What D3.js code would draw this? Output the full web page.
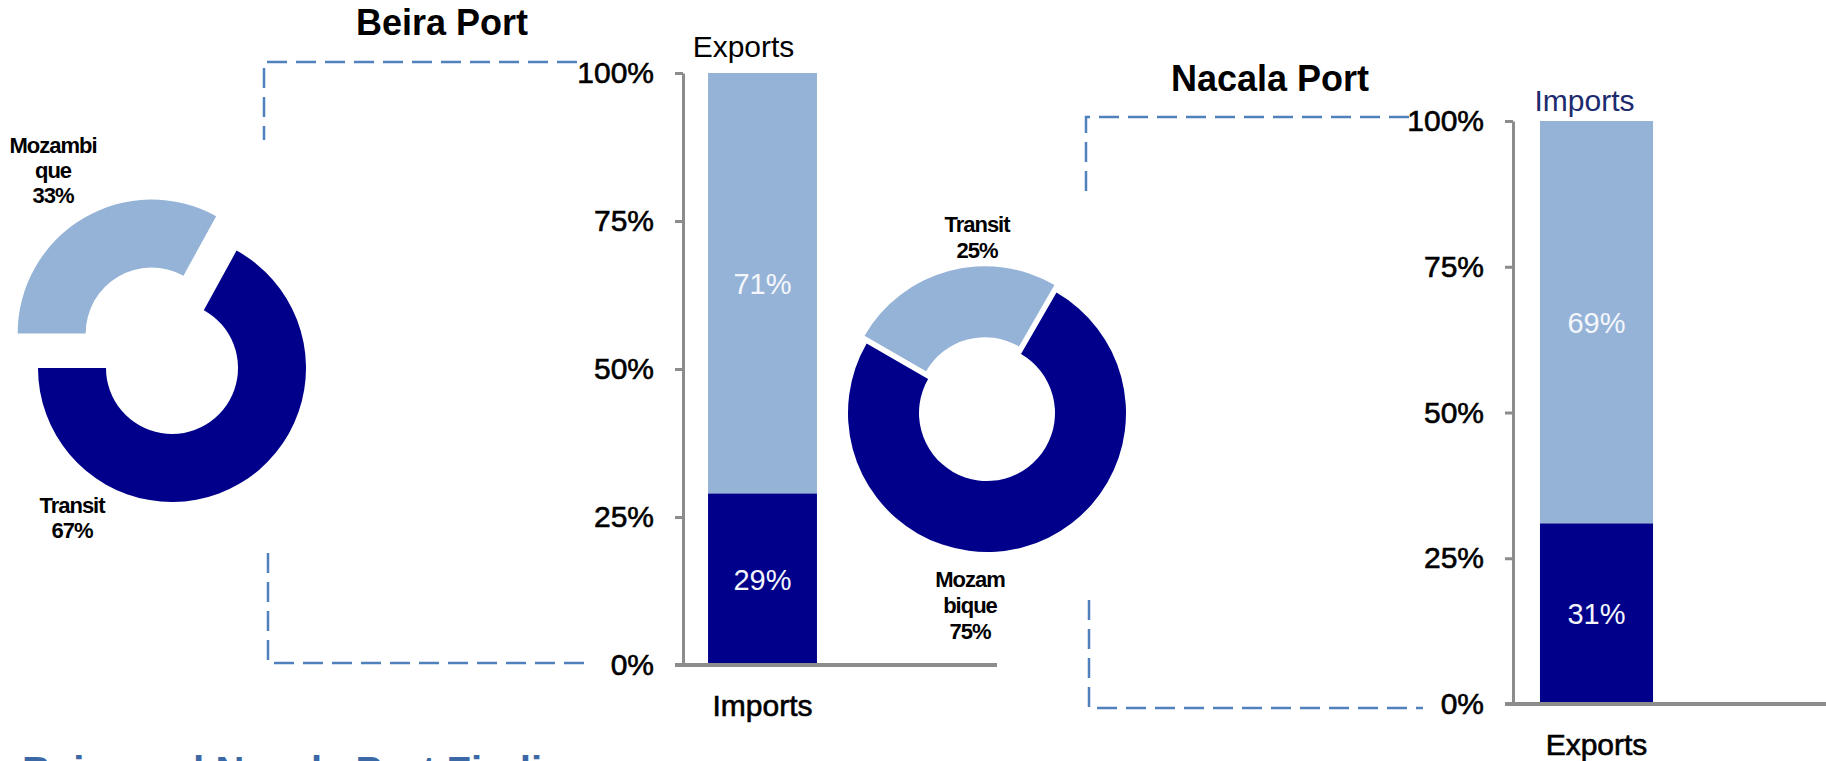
<!DOCTYPE html>
<html>
<head>
<meta charset="utf-8">
<script src="https://cdn.jsdelivr.net/npm/d3@7"></script>
<style>
  html, body { margin: 0; padding: 0; background: #fff; overflow: hidden; }
  svg { display: block; font-family: "Liberation Sans", Arial, Helvetica, sans-serif; }
</style>
</head>
<body>
<svg id="chart" width="1826" height="761"></svg>
<script>
// Cargo origin (donuts) and trade direction (stacked bars) for two ports
const ports = ["Beira Port", "Nacala Port"];

const beiraOrigin = ["Mozambique", "Transit"];
const beiraOriginShare = [33, 67];
const nacalaOrigin = ["Transit", "Mozambique"];
const nacalaOriginShare = [25, 75];

const beiraFlow = ["Imports", "Exports"];
const beiraFlowShare = [29, 71];
const nacalaFlow = ["Exports", "Imports"];
const nacalaFlowShare = [31, 69];

const yTicks = [0, 25, 50, 75, 100];
const footerText = "Beira and Nacala Port Findings";

// ---- styling & layout ----
const C = {
  dark: "#00008b",
  light: "#95b3d7",
  axis: "#8c8c8c",
  guide: "#4f81bd",
  footer: "#3d68a6",
  navy: "#1c2a6e"
};

const panels = [
  {
    port: ports[0], origin: beiraOrigin, originShare: beiraOriginShare,
    flow: beiraFlow, flowShare: beiraFlowShare,
    title: { x: 442, y: 35 },
    donut: { cx: 172, cy: 368, r0: 66, r1: 134, start: -90, explode: [40, 0], wrap: [7, 7],
             labels: [{ x: 53, y: 153 }, { x: 72, y: 513 }], lineH: 25 },
    bar: { x0: 683, x1: 842, axisEnd: 997, yTop: 73, yBottom: 665, pad: 0.315,
           topGap: 16, topDx: -19, topColor: "#000" },
    guides: [
      [[577, 62], [264, 62], [264, 140]],
      [[268, 553], [268, 663], [588, 663]]
    ]
  },
  {
    port: ports[1], origin: nacalaOrigin, originShare: nacalaOriginShare,
    flow: nacalaFlow, flowShare: nacalaFlowShare,
    title: { x: 1270, y: 91 },
    donut: { cx: 987, cy: 413, r0: 68, r1: 139, start: -60, explode: [8, 0], wrap: [7, 5],
             labels: [{ x: 977, y: 232 }, { x: 970, y: 587 }], lineH: 26 },
    bar: { x0: 1513, x1: 1680, axisEnd: 1826, yTop: 121, yBottom: 704, pad: 0.323,
           topGap: 10, topDx: -12, topColor: C.navy },
    guides: [
      [[1409, 117], [1086, 117], [1086, 193]],
      [[1089, 600], [1089, 708], [1423, 708]]
    ]
  }
];

const svg = d3.select("#chart");
const rad = Math.PI / 180;

// split a long category name into fixed-width chunks for the slice label
const chunk = (s, n) => s.match(new RegExp(".{1," + n + "}", "g"));

panels.forEach(p => {
  const g = svg.append("g").attr("class", "panel");

  // dashed guide brackets
  const line = d3.line();
  p.guides.forEach(pts => {
    g.append("path")
      .attr("d", line(pts))
      .attr("fill", "none")
      .attr("stroke", C.guide)
      .attr("stroke-width", 2.5)
      .attr("stroke-dasharray", "20,9");
  });

  // port title
  g.append("text")
    .attr("x", p.title.x).attr("y", p.title.y)
    .attr("text-anchor", "middle")
    .attr("font-size", 36).attr("font-weight", "bold")
    .attr("fill", "#000")
    .text(p.port);

  // ---- donut: cargo origin ----
  const d = p.donut;
  const pie = d3.pie().sort(null).value(v => v)
    .startAngle(d.start * rad).endAngle(d.start * rad + 2 * Math.PI);
  const arc = d3.arc().innerRadius(d.r0).outerRadius(d.r1);
  const slices = pie(p.originShare);
  const sliceColor = [C.light, C.dark];

  const dg = g.append("g").attr("transform", `translate(${d.cx},${d.cy})`);
  dg.selectAll("path")
    .data(slices)
    .join("path")
    .attr("d", arc)
    .attr("fill", (s, i) => sliceColor[i])
    .attr("transform", (s, i) => {
      const mid = (s.startAngle + s.endAngle) / 2;
      const e = d.explode[i];
      return `translate(${e * Math.sin(mid)},${-e * Math.cos(mid)})`;
    });

  slices.forEach((s, i) => {
    const lines = chunk(p.origin[i], d.wrap[i]).concat([p.originShare[i] + "%"]);
    const t = g.append("text")
      .attr("text-anchor", "middle")
      .attr("font-size", 22).attr("font-weight", "bold")
      .attr("letter-spacing", -1)
      .attr("fill", "#000");
    lines.forEach((ln, k) => {
      t.append("tspan")
        .attr("x", d.labels[i].x)
        .attr("y", d.labels[i].y + k * d.lineH)
        .text(ln);
    });
  });

  // ---- stacked bar: trade direction ----
  const b = p.bar;
  const y = d3.scaleLinear().domain([0, 100]).range([b.yBottom, b.yTop]);
  const x = d3.scaleBand().domain([p.flow[0]]).range([b.x0, b.x1])
    .paddingInner(b.pad).paddingOuter(b.pad / 2);

  const row = { cat: p.flow[0] };
  p.flow.forEach((k, i) => { row[k] = p.flowShare[i]; });
  const stacked = d3.stack().keys(p.flow)([row]);
  const segColor = [C.dark, C.light];

  const bg = g.append("g");
  stacked.forEach((layer, i) => {
    const seg = layer[0];
    bg.append("rect")
      .attr("x", x(row.cat))
      .attr("width", x.bandwidth())
      .attr("y", y(seg[1]))
      .attr("height", y(seg[0]) - y(seg[1]))
      .attr("fill", segColor[i]);
    bg.append("text")
      .attr("x", x(row.cat) + x.bandwidth() / 2)
      .attr("y", (y(seg[0]) + y(seg[1])) / 2)
      .attr("dy", "0.36em")
      .attr("text-anchor", "middle")
      .attr("font-size", 29)
      .attr("fill", "#f4f6fb")
      .text(p.flowShare[i] + "%");
  });

  // series name above the bar
  g.append("text")
    .attr("x", x(row.cat) + x.bandwidth() / 2 + b.topDx)
    .attr("y", b.yTop - b.topGap)
    .attr("text-anchor", "middle")
    .attr("font-size", 30)
    .attr("fill", b.topColor)
    .text(p.flow[1]);

  // y axis
  g.append("g")
    .attr("transform", `translate(${b.x0},0)`)
    .call(d3.axisLeft(y).tickValues(yTicks).tickFormat(v => v + "%")
      .tickSize(8).tickSizeOuter(0).tickPadding(21))
    .call(a => {
      a.attr("font-family", null).attr("font-size", null);
      a.select(".domain").attr("stroke", C.axis).attr("stroke-width", 3);
      a.selectAll(".tick line").attr("stroke", C.axis).attr("stroke-width", 3);
      a.selectAll(".tick text")
        .attr("font-size", 30).attr("fill", "#000")
        .attr("stroke", "#000").attr("stroke-width", 0.6);
    });

  // x axis baseline spanning the plot
  g.append("line")
    .attr("x1", b.x0 - 8).attr("x2", b.axisEnd)
    .attr("y1", b.yBottom).attr("y2", b.yBottom)
    .attr("stroke", C.axis).attr("stroke-width", 4);

  g.append("g")
    .attr("transform", `translate(0,${b.yBottom})`)
    .call(d3.axisBottom(x).tickSize(0).tickPadding(30))
    .call(a => {
      a.attr("font-family", null).attr("font-size", null);
      a.select(".domain").remove();
      a.selectAll(".tick text")
        .attr("font-size", 30).attr("fill", "#000")
        .attr("stroke", "#000").attr("stroke-width", 0.6);
    });
});

// footer heading running off the bottom edge
svg.append("text")
  .attr("x", 22).attr("y", 785)
  .attr("font-size", 40).attr("font-weight", "bold")
  .attr("fill", C.footer)
  .text(footerText);
</script>
</body>
</html>
